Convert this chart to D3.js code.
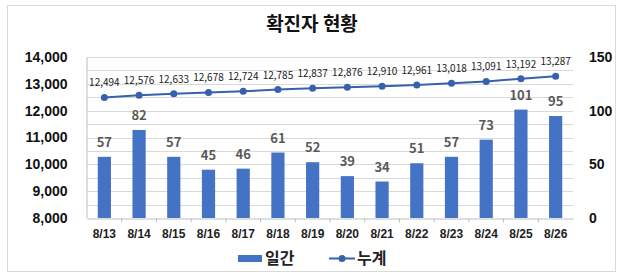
<!DOCTYPE html>
<html>
<head>
	<meta http-equiv="Content-Type" content="text/html;charset=utf-8">
	<title>확진자 현황</title>
	<script type="text/javascript" src="https://d3js.org/d3.v7.min.js"></script>
	<style type="text/css">
		body {
			margin: 0;
			background: white;
			font-family: "Noto Sans CJK KR", "Noto Sans", sans-serif;
		}
		.grid line {
			stroke: #d9d9d9;
			stroke-width: 1;
		}
		.axisL text, .axisR text {
			font-size: 14px;
			font-weight: bold;
			fill: #111;
		}
		.axisX text {
			font-size: 12px;
			font-weight: bold;
			fill: #222;
		}
		.barLabel {
			font-size: 13px;
			font-weight: bold;
			fill: #595959;
		}
		.lineLabel {
			font-size: 10px;
			fill: #222;
		}
	</style>
</head>
<body>
	<div id="chart"></div>
	<script type="text/javascript">
		// data
		var dates = ["8/13", "8/14", "8/15", "8/16", "8/17", "8/18", "8/19", "8/20", "8/21", "8/22", "8/23", "8/24", "8/25", "8/26"];
		var daily = [57, 82, 57, 45, 46, 61, 52, 39, 34, 51, 57, 73, 101, 95];
		var total = [12494, 12576, 12633, 12678, 12724, 12785, 12837, 12876, 12910, 12961, 13018, 13091, 13192, 13287];
		var leftTicks = [8000, 9000, 10000, 11000, 12000, 13000, 14000];
		var rightTicks = [0, 50, 100, 150];

		var W = 639, H = 276;
		var m = {top: 57, right: 66, bottom: 58, left: 87};
		var barColor = "#4472c4", lineColor = "#3561ad";

		var svg = d3.select("#chart").append("svg")
			.attr("width", W)
			.attr("height", H);

		// frame
		svg.append("rect")
			.attr("x", 7.5).attr("y", 5.5)
			.attr("width", 608).attr("height", 266)
			.attr("fill", "white")
			.attr("stroke", "#d9d9d9");

		svg.append("text")
			.attr("x", 312).attr("y", 31)
			.attr("text-anchor", "middle")
			.style("font-size", "19px")
			.style("font-weight", "bold")
			.attr("fill", "#111")
			.text("확진자 현황");

		var x = d3.scaleBand()
			.domain(dates)
			.range([m.left, W - m.right])
			.paddingInner(0.62)
			.paddingOuter(0.31);

		var yL = d3.scaleLinear().domain([8000, 14000]).range([H - m.bottom, m.top]);
		var yR = d3.scaleLinear().domain([0, 150]).range([H - m.bottom, m.top]);

		// gridlines every 500
		svg.append("g").attr("class", "grid")
			.selectAll("line")
			.data(d3.range(8500, 14001, 500))
			.join("line")
			.attr("x1", m.left).attr("x2", W - m.right)
			.attr("y1", function(d) { return Math.round(yL(d)) + 0.5; })
			.attr("y2", function(d) { return Math.round(yL(d)) + 0.5; });

		// left axis
		var axL = svg.append("g").attr("class", "axisL")
			.attr("transform", "translate(" + (m.left - 0.5) + ",0)")
			.call(d3.axisLeft(yL).tickValues(leftTicks).tickFormat(d3.format(",")).tickSize(0).tickPadding(19));
		axL.select(".domain").attr("stroke", "#bfbfbf");

		// right axis
		var axR = svg.append("g").attr("class", "axisR")
			.attr("transform", "translate(" + (W - m.right) + ",0)")
			.call(d3.axisRight(yR).tickValues(rightTicks).tickSize(0).tickPadding(16));
		axR.select(".domain").remove();

		// x axis
		var axX = svg.append("g").attr("class", "axisX")
			.attr("transform", "translate(0," + (H - m.bottom + 0.5) + ")")
			.call(d3.axisBottom(x).tickSize(0).tickPadding(11));
		axX.select(".domain").attr("stroke", "#bfbfbf");
		axX.selectAll(".sep")
			.data(dates.slice(1))
			.join("line")
			.attr("class", "sep")
			.attr("x1", function(d) { return x(d) - x.step() * x.paddingInner() / 2; })
			.attr("x2", function(d) { return x(d) - x.step() * x.paddingInner() / 2; })
			.attr("y1", 0).attr("y2", 4)
			.attr("stroke", "#bfbfbf");

		// bars
		svg.append("g").selectAll("rect")
			.data(daily)
			.join("rect")
			.attr("x", function(d, i) { return x(dates[i]); })
			.attr("y", function(d) { return yR(d); })
			.attr("width", x.bandwidth())
			.attr("height", function(d) { return yR(0) - yR(d); })
			.attr("fill", barColor);

		svg.append("g").selectAll("text")
			.data(daily)
			.join("text")
			.attr("class", "barLabel")
			.attr("x", function(d, i) { return x(dates[i]) + x.bandwidth() / 2; })
			.attr("y", function(d) { return yR(d) - 10; })
			.attr("text-anchor", "middle")
			.text(function(d) { return d; });

		// line
		var line = d3.line()
			.x(function(d, i) { return x(dates[i]) + x.bandwidth() / 2; })
			.y(function(d) { return yL(d); });

		svg.append("path")
			.datum(total)
			.attr("d", line)
			.attr("fill", "none")
			.attr("stroke", lineColor)
			.attr("stroke-width", 2);

		svg.append("g").selectAll("circle")
			.data(total)
			.join("circle")
			.attr("cx", function(d, i) { return x(dates[i]) + x.bandwidth() / 2; })
			.attr("cy", function(d) { return yL(d); })
			.attr("r", 3.5)
			.attr("fill", lineColor);

		svg.append("g").selectAll("text")
			.data(total)
			.join("text")
			.attr("class", "lineLabel")
			.attr("x", function(d, i) { return x(dates[i]) + x.bandwidth() / 2; })
			.attr("y", function(d) { return yL(d) - 11; })
			.attr("text-anchor", "middle")
			.text(d3.format(","));

		// legend
		var lg = svg.append("g").attr("transform", "translate(238,258)");
		lg.append("rect").attr("x", 0).attr("y", -3).attr("width", 24).attr("height", 7).attr("fill", barColor);
		lg.append("text").attr("x", 27).attr("y", 6)
			.style("font-size", "16px").style("font-weight", "bold").attr("fill", "#222").text("일간");
		lg.append("line").attr("x1", 91).attr("x2", 117).attr("y1", 0.5).attr("y2", 0.5)
			.attr("stroke", lineColor).attr("stroke-width", 2);
		lg.append("circle").attr("cx", 104).attr("cy", 0.5).attr("r", 3.5).attr("fill", lineColor);
		lg.append("text").attr("x", 119).attr("y", 6)
			.style("font-size", "16px").style("font-weight", "bold").attr("fill", "#222").text("누계");
	</script>
</body>
</html>
